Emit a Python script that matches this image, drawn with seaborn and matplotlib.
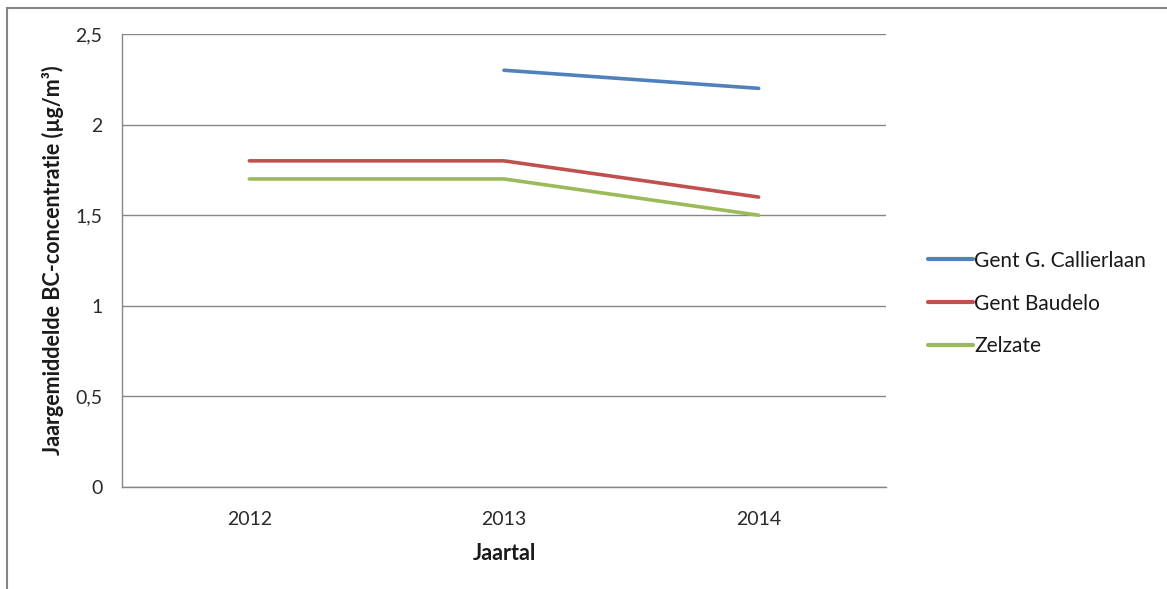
import matplotlib
matplotlib.use("Agg")
import matplotlib.pyplot as plt
import seaborn as sns
import pandas as pd
import numpy as np
from matplotlib.patches import Rectangle
from matplotlib.ticker import FuncFormatter
from matplotlib.lines import Line2D

years = [2012, 2013, 2014]
callierlaan = [np.nan, 2.3, 2.2]
baudelo = [1.8, 1.8, 1.6]
zelzate = [1.7, 1.7, 1.5]
series_names = ["Gent G. Callierlaan", "Gent Baudelo", "Zelzate"]
colors = ["#4F81BD", "#C0504D", "#9BBB59"]

rows = []
for name, vals in zip(series_names, [callierlaan, baudelo, zelzate]):
    for y, v in zip(years, vals):
        rows.append({"Jaar": y, "Waarde": v, "Station": name})
df = pd.DataFrame(rows).dropna()

sns.set_theme(style="white")
plt.rcParams['font.family'] = ['Lato', 'DejaVu Sans']

fig = plt.figure(figsize=(11.67, 5.89), dpi=100)
ax = fig.add_axes([122/1167, 1-487/589, (886-122)/1167, (487-34)/589])

sns.lineplot(data=df, x="Jaar", y="Waarde", hue="Station", hue_order=series_names,
             palette=colors, linewidth=2.6, ax=ax, legend=False)

ax.set_xlim(2011.5, 2014.5)
ax.set_ylim(0, 2.5)
ax.set_yticks(np.arange(0, 2.51, 0.5))
ax.yaxis.set_major_formatter(FuncFormatter(lambda v, p: ("%g" % v).replace(".", ",")))
ax.set_xticks(years)
ax.set_xticks([2011.5, 2012.5, 2013.5, 2014.5], minor=True)
ax.tick_params(axis="x", which="major", length=0, pad=17, labelsize=14, colors="#2a2a2a")
ax.tick_params(axis="x", which="minor", length=6, width=1, color="#868686", direction="out")
ax.tick_params(axis="y", which="major", length=6, width=1, color="#868686", direction="out",
               pad=8, labelsize=14, labelcolor="#2a2a2a")
ax.grid(axis="y", color="#868686", linewidth=1)
ax.set_axisbelow(True)
for s in ["top", "right"]:
    ax.spines[s].set_visible(False)
for s in ["left", "bottom"]:
    ax.spines[s].set_color("#868686")
    ax.spines[s].set_linewidth(1)

ax.set_xlabel("Jaartal", fontsize=15.5, fontweight="bold", labelpad=11, color="#1a1a1a")
ax.set_ylabel("Jaargemiddelde BC-concentratie (µg/m³)", fontsize=15.5, fontweight="bold",
              labelpad=8, color="#1a1a1a")

handles = [Line2D([0], [0], color=c, linewidth=3) for c in colors]
fig.legend(handles, series_names, loc="upper left", bbox_to_anchor=(913/1167, 1-236/589),
           frameon=False, fontsize=15, handlelength=2.2, handletextpad=0.05,
           labelspacing=1.1, labelcolor="#1a1a1a", borderpad=0.2)

fig.patches.append(Rectangle((7/1167, -0.05), 1.2, 1-8/589+0.05, transform=fig.transFigure,
                             fill=False, edgecolor="#868686", linewidth=1.5))

fig.savefig("out.png", dpi=100)
